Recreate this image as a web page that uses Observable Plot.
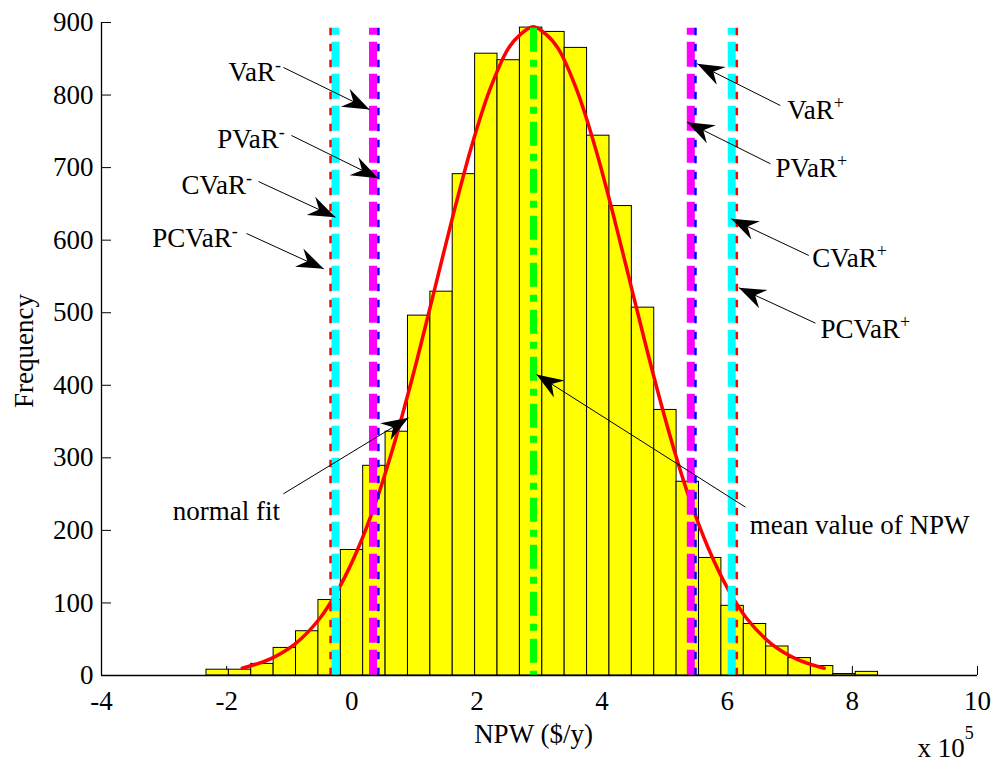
<!DOCTYPE html>
<html><head><meta charset="utf-8">
<script src="https://cdn.jsdelivr.net/npm/d3@7"></script>
<script src="https://cdn.jsdelivr.net/npm/@observablehq/plot@0.6"></script>
<style>body{margin:0;background:#fff;}</style>
</head><body><div id="chart"></div>
<script>
// ---- data (x in units of 10^5 $/y) ----
const binEdges = [-2.322,-1.964,-1.607,-1.249,-0.891,-0.533,-0.175,0.182,0.540,0.898,1.256,1.613,1.971,2.329,2.687,3.045,3.402,3.760,4.118,4.476,4.834,5.191,5.549,5.907,6.265,6.623,6.980,7.338,7.696,8.054,8.411];
const counts = [8,8,16,38,61,104,173,289,336,496,529,691,857,848,893,887,865,744,647,507,366,267,162,96,71,40,24,13,2,5];

const fitX = [-1.75,-1.3,-0.9,-0.5,-0.2,0.1,0.4,0.7,1.0,1.3,1.6,1.9,2.2,2.5,2.7,2.9,3.1,3.3,3.6,3.9,4.2,4.5,4.8,5.1,5.4,5.7,6.0,6.3,6.7,7.1,7.55];
const fitY = [10,23,44,80,121,175,243,326,421,524,628,725,806,864,884,894,884,864,806,725,628,524,421,326,243,175,121,80,44,23,10];

const riskNames  = ["PCVaR-","CVaR-","VaR-","PVaR-","mean","VaR+","PVaR+","CVaR+","PCVaR+"];
const riskKinds  = ["PCVaR","CVaR","VaR","PVaR","mean","VaR","PVaR","CVaR","PCVaR"];
const riskValues = [-0.340,-0.261,0.339,0.425,2.904,5.418,5.493,6.072,6.153];
const riskTop = 892;

const labelText = ["VaR⁻","PVaR⁻","CVaR⁻","PCVaR⁻","VaR⁺","PVaR⁺","CVaR⁺","PCVaR⁺","normal fit","mean value of NPW"];
const labelX = [-1.971,-2.151,-2.722,-3.190,6.959,6.772,7.358,7.491,-2.861,6.361];
const labelY = [818.7,726.8,663.9,590.3,767.3,687.7,562.7,465.4,214.6,195.3];
const arrowFromX = [-1.093,-0.964,-1.491,-1.683,6.848,6.691,7.304,7.411,-1.093,6.292];
const arrowFromY = [838,744.3,680.8,609.2,785.6,705.3,578.9,485.6,250.4,232];
const arrowToX = [0.283,0.422,-0.261,-0.448,5.520,5.360,6.064,6.185,0.906,2.952];
const arrowToY = [780.1,685.4,631.7,560.5,843.1,762.6,629.4,534.4,355.2,414.9];

const xTicks = [-4,-2,0,2,4,6,8,10];
const yTicks = [0,100,200,300,400,500,600,700,800,900];
const xLabel = "NPW ($/y)";
const yLabel = "Frequency";
const xExponent = "x 10⁵";

// ---- tables ----
const bars = counts.map((c, i) => ({x1: binEdges[i], x2: binEdges[i+1], count: c}));
const fit = fitX.map((x, i) => ({x, y: fitY[i]}));
const risks = riskValues.map((v, i) => ({name: riskNames[i], kind: riskKinds[i], x: v, top: riskTop, bottom: 0}));
const notes = labelText.map((t, i) => ({text: t, lx: labelX[i], ly: labelY[i], x1: arrowFromX[i], y1: arrowFromY[i], x2: arrowToX[i], y2: arrowToY[i]}));

// ---- layout / style ----
const W = 994, H = 762, mL = 101, mR = 17, mT = 22, mB = 87;
const xDomain = [-4, 10], yDomain = [0, 900];
const xs = d3.scaleLinear(xDomain, [mL, W - mR]);
const ys = d3.scaleLinear(yDomain, [H - mB, mT]);
notes.forEach(d => { d.angle = Math.atan2(ys(d.y2) - ys(d.y1), xs(d.x2) - xs(d.x1)) * 180 / Math.PI; });

const lineStyle = {
  CVaR:  {stroke: "#00FFFF", strokeWidth: 8,   strokeDasharray: "25,7", strokeDashoffset: 18},
  VaR:   {stroke: "#FF00FF", strokeWidth: 8,   strokeDasharray: "25,7", strokeDashoffset: 18},
  PCVaR: {stroke: "#FF0000", strokeWidth: 2.5, strokeDasharray: "7.5,8.5", strokeDashoffset: 0},
  PVaR:  {stroke: "#0000FF", strokeWidth: 2.5, strokeDasharray: "7.5,8.5", strokeDashoffset: 0},
  mean:  {stroke: "#00FF00", strokeWidth: 7,   strokeDasharray: "24,8,7,8", strokeDashoffset: 0}
};
const riskMarks = Object.keys(lineStyle).map(k =>
  Plot.ruleX(risks.filter(d => d.kind === k), {x: "x", y1: "top", y2: "bottom", ...lineStyle[k]})
);

const arrowHead = {
  draw(ctx) { ctx.moveTo(0, 0); ctx.lineTo(-27, -10); ctx.lineTo(-18, 0); ctx.lineTo(-27, 10); ctx.closePath(); }
};
const FS = 27;

const plot = Plot.plot({
  width: W, height: H,
  marginLeft: mL, marginRight: mR, marginTop: mT, marginBottom: mB,
  style: {fontFamily: "'Liberation Serif', 'Times New Roman', serif", fontSize: FS + "px", background: "#fff", color: "#000"},
  x: {domain: xDomain, label: null},
  y: {domain: yDomain, label: null},
  marks: [
    Plot.axisX({ticks: xTicks, tickSize: -9, tickFormat: () => "", label: null, stroke: "#000", strokeWidth: 1}),
    Plot.axisY({ticks: yTicks, tickSize: -10, tickFormat: () => "", label: null, stroke: "#000", strokeWidth: 1}),
    Plot.rectY(bars, {x1: "x1", x2: "x2", y: "count", fill: "#FFFF00", stroke: "#000", strokeWidth: 1}),
    Plot.line(fit, {x: "x", y: "y", stroke: "#FF0000", strokeWidth: 3.5, curve: "catmull-rom"}),
    ...riskMarks,
    Plot.ruleY([0], {stroke: "#000", strokeWidth: 1.3}),
    Plot.ruleX([-4], {stroke: "#000", strokeWidth: 1.3}),
    Plot.axisX({ticks: xTicks, tickSize: 0, tickPadding: 15, tickFormat: d => String(d), label: null, fontSize: FS}),
    Plot.axisY({ticks: yTicks, tickSize: 0, tickPadding: 8, tickFormat: d => String(d), label: null, fontSize: FS}),
    Plot.link(notes, {x1: "x1", y1: "y1", x2: "x2", y2: "y2", stroke: "#000", strokeWidth: 1}),
    Plot.dot(notes, {x: "x2", y: "y2", symbol: arrowHead, rotate: "angle", fill: "#000", stroke: "none", r: 10}),
    Plot.text(notes, {x: "lx", y: "ly", text: "text", textAnchor: "start", lineAnchor: "bottom", fontSize: FS, fill: "#000"}),
    Plot.text([xLabel], {frameAnchor: "bottom", textAnchor: "middle", dx: -6, dy: 67, lineAnchor: "bottom", fontSize: FS, fill: "#000"}),
    Plot.text([yLabel], {frameAnchor: "left", textAnchor: "middle", lineAnchor: "middle", rotate: -90, dx: -77, dy: 2, fontSize: FS, fill: "#000"}),
    Plot.text([xExponent], {frameAnchor: "bottom-right", dx: -60, dy: 81, textAnchor: "start", lineAnchor: "bottom", fontSize: FS, fill: "#000"})
  ]
});

// superscripts as tspans
const supMap = {"⁻": ["-", -10], "⁺": ["+", -10], "⁵": ["5", -18]};
d3.select(plot).selectAll("text").each(function() {
  const t = this.textContent;
  const last = t.slice(-1);
  if (supMap[last] && t.length > 1) {
    const base = t.slice(0, -1);
    const [ch, dy] = supMap[last];
    this.textContent = base;
    const ts = document.createElementNS("http://www.w3.org/2000/svg", "tspan");
    ts.setAttribute("dy", dy);
    ts.setAttribute("font-size", "18px");
    ts.textContent = ch;
    this.appendChild(ts);
  }
});

document.getElementById("chart").appendChild(plot);
</script>
</body></html>
